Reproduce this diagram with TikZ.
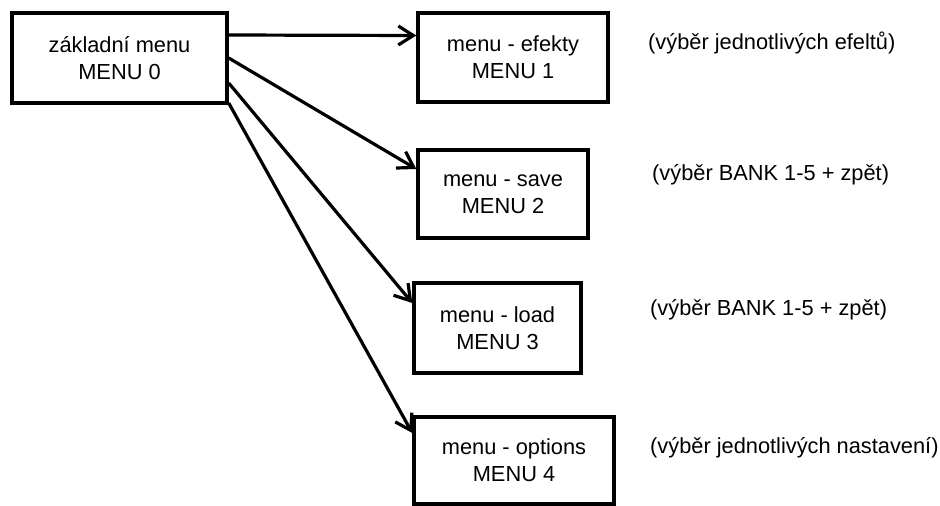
\documentclass[tikz,border=0pt]{standalone}
\usepackage{fontspec}
\setmainfont{Liberation Sans}
\usetikzlibrary{arrows.meta}
\tikzset{
  menubox/.style={draw, line width=3.4pt, inner sep=0pt, align=center,
    font=\fontsize{21.8}{27}\selectfont},
  note/.style={anchor=west, inner sep=0pt, font=\fontsize{21.8}{27}\selectfont},
  arr/.style={line width=3.2pt, -{Straight Barb[length=15pt,width=19pt]}}
}
\begin{document}
\begin{tikzpicture}[x=1pt,y=-1pt]
\useasboundingbox (0,0) rectangle (940,506);
\node[menubox, minimum width=215pt, minimum height=90pt] (b0) at (119.5,58) {základní menu\\MENU 0};
\node[menubox, minimum width=190pt, minimum height=89pt] (b1) at (513,57.5) {menu - efekty\\MENU 1};
\node[menubox, minimum width=170pt, minimum height=88pt] (b2) at (503,194) {menu - save\\MENU 2};
\node[menubox, minimum width=167pt, minimum height=90pt] (b3) at (497.5,328) {menu - load\\MENU 3};
\node[menubox, minimum width=200pt, minimum height=87pt] (b4) at (514,460.5) {menu - options\\MENU 4};
\node[note] (n1) at (648,43) {(výběr jednotlivých efeltů)};
\node[note] (n2) at (652,175) {(výběr BANK 1-5 + zpět)};
\node[note] (n3) at (650,310) {(výběr BANK 1-5 + zpět)};
\node[note] (n4) at (650,448) {(výběr jednotlivých nastavení)};
\foreach \n/\a/\b in {1/23/22,2/0/25,3/-25/25,4/-45/27.5}
\draw[arr] ([yshift=\a pt]b0.east) -- ([yshift=\b pt]b\n.west);
\end{tikzpicture}
\end{document}
